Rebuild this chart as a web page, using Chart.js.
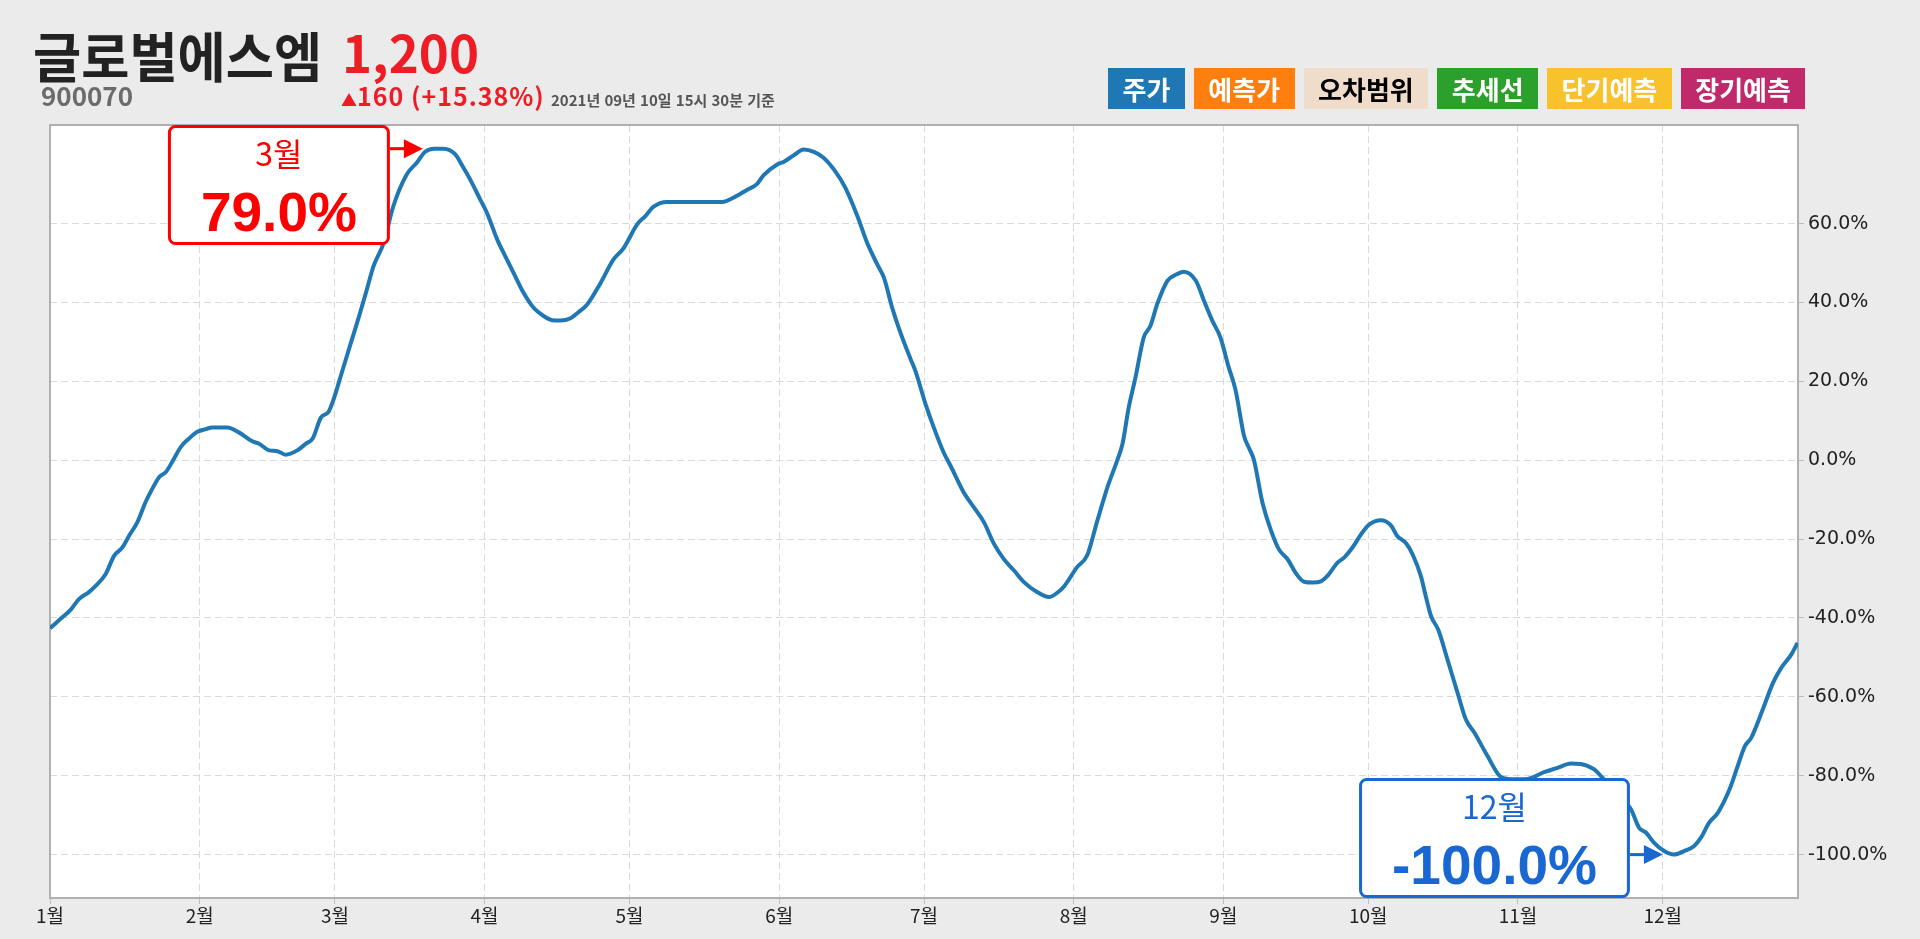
<!DOCTYPE html>
<html lang="ko">
<head>
<meta charset="utf-8">
<script src="https://cdn.jsdelivr.net/npm/chart.js@4.4.0/dist/chart.umd.min.js"></script>
<style>
  html, body { margin: 0; padding: 0; background: #ebebeb; width: 1920px; height: 939px; overflow: hidden; font-family: "Noto Sans CJK KR", sans-serif; }
  #wrap { position: relative; width: 1920px; height: 939px; }
  canvas { position: absolute; left: 0; top: 0; }
  .t { position: absolute; white-space: nowrap; line-height: 1; font-weight: 700; }
  #name { left: 33px; top: 28px; font-size: 54px; color: #222; transform: scaleX(0.97); transform-origin: left top; }
  #price { left: 342px; top: 26px; font-size: 51px; color: #ee1d25; }
  #code { left: 41px; top: 82px; font-size: 26px; color: #6b6b6b; }
  #change { left: 341px; top: 83px; font-size: 25px; color: #ee1d25; letter-spacing: 1px; }
  #change .up { font-size: 16px; letter-spacing: 0; }
  #stamp { left: 551px; top: 92px; font-size: 15px; color: #555; }
  #legend { position: absolute; left: 1108px; top: 68px; display: flex; gap: 9px; }
  #legend div { height: 41px; line-height: 41px; padding: 0 14.5px; font-size: 26px; font-weight: 700; }
</style>
</head>
<body>
<div id="wrap">
  <canvas id="chart" width="1920" height="939"></canvas>
  <div class="t" id="name"></div>
  <div class="t" id="price"></div>
  <div class="t" id="code"></div>
  <div class="t" id="change"></div>
  <div class="t" id="stamp"></div>
  <div id="legend"></div>
</div>
<script>
// header
const stockName = '글로벌에스엠';
const stockCode = '900070';
const lastPrice = 1200;
const priceChange = 160;
const changeRate = 15.38;
const asOf = '2021년 09년 10일 15시 30분 기준';

// legend
const legendLabels = ['주가', '예측가', '오차범위', '추세선', '단기예측', '장기예측'];
const legendColors = ['#1f77b4', '#ff7f0e', '#efdccb', '#2ca02c', '#f8c22c', '#c12a6a'];
const legendText = ['#fff', '#fff', '#000', '#fff', '#fff', '#fff'];

// axes
const monthLabels = ['1월', '2월', '3월', '4월', '5월', '6월', '7월', '8월', '9월', '10월', '11월', '12월'];
const monthStartDays = [0, 31, 59, 90, 120, 151, 181, 212, 243, 273, 304, 334];
const yTickValues = [-100, -80, -60, -40, -20, 0, 20, 40, 60];

// 주가 (return %), day of year
const dayOfYear = [
  0, 2.5, 4.3, 6, 8, 9.5, 11.5, 13.3, 15, 16.4,
  18.1, 19.8, 21.2, 22.6, 24, 25.5, 27.1, 28.8, 30.5, 32.3,
  33.6, 36.7, 39.2, 41.9, 43.3, 45.4, 47.1, 48.8, 51.2, 53,
  54.4, 56.1, 57.7, 58.8, 60.5, 62.5, 64.2, 65.6, 67, 69.1,
  71.1, 73.9, 76, 77.7, 79.5, 81.5, 83.9, 85.6, 87, 89.1,
  90.5, 92.6, 94.3, 96, 98.1, 100.2, 102.2, 104, 105.7, 107.8,
  109.5, 111.2, 114, 116.7, 118.8, 121.6, 123.3, 125, 127.8, 131,
  134, 137, 139.2, 141.6, 144.4, 146.4, 147.8, 150.6, 152, 154,
  156.1, 158.2, 160.2, 162.3, 164.7, 167.2, 169.2, 171.3, 172.7, 174.4,
  176.1, 178.2, 179.2, 181.3, 183, 185.1, 186.5, 189.2, 191.3, 193.4,
  195.5, 197.5, 199.6, 201.7, 204.4, 206.9, 208.6, 210, 212.7, 214.8,
  216.9, 219, 221, 222.1, 223.4, 224.8, 226.5, 227.9, 229.3, 231.4,
  233.1, 234.8, 237.3, 239, 240.7, 242.4, 244, 245.5, 247.3, 248.3,
  249.3, 251.1, 252.8, 254.5, 256.3, 258, 259.7, 261.5, 263.2, 264.5,
  266.6, 268, 269.7, 271.5, 273.2, 275.6, 277.7, 279, 280.8, 282.2,
  283.9, 284.9, 286, 287.5, 289.4, 291.5, 293.2, 295, 297.7, 300.5,
  303.2, 306, 309.4, 312.2, 315, 317, 319.8, 321.2, 324, 327.4,
  329.1, 330.5, 332.2, 334.3, 336.3, 338.4, 340.5, 341.9, 343.6, 345.4,
  347.8, 349.5, 351, 352.3, 354.7, 356.8, 358.5, 360.6, 361.9
];
const returns = [
  -42.6, -39.9, -37.9, -35.2, -33.5, -31.8, -28.9, -24.2, -22.1, -19.1,
  -15.7, -10.6, -7.2, -4.3, -3.0, 0.0, 3.4, 5.5, 7.2, 7.9,
  8.3, 8.3, 7.0, 4.8, 4.2, 2.5, 2.3, 1.4, 2.5, 4.2,
  5.5, 10.8, 12.3, 15.7, 22.5, 30.5, 37.3, 43.2, 49.2, 55.1,
  64.4, 72.5, 75.5, 78.2, 79.0, 79.0, 77.6, 74.2, 71.2, 66.1,
  62.7, 56.0, 51.7, 47.5, 42.4, 38.6, 36.6, 35.5, 35.4, 36.0,
  37.6, 39.4, 44.9, 50.9, 53.8, 59.8, 61.9, 64.3, 65.5, 65.5,
  65.5, 65.5, 65.5, 66.6, 68.6, 70.0, 72.3, 75.0, 75.7, 77.3,
  78.8, 78.2, 76.7, 73.8, 69.1, 61.9, 55.2, 49.7, 46.3, 38.7,
  32.4, 25.7, 22.7, 14.3, 8.4, 1.9, -1.4, -8.1, -11.9, -15.7,
  -21.2, -25.0, -27.9, -30.9, -33.4, -34.7, -33.6, -32.0, -27.1, -24.1,
  -15.3, -6.8, -0.1, 4.1, 13.4, 21.0, 31.1, 34.1, 39.6, 45.5,
  47.0, 47.8, 45.5, 40.4, 35.4, 31.1, 24.0, 17.9, 6.1, 3.1,
  0.2, -10.8, -17.6, -22.6, -25.1, -28.6, -30.8, -31.0, -30.7, -29.4,
  -26.0, -24.7, -22.2, -18.8, -16.3, -15.2, -16.5, -19.2, -21.0, -23.9,
  -29.4, -34.4, -39.5, -43.0, -50.5, -59.0, -65.7, -69.1, -75.0, -80.3,
  -80.9, -80.8, -79.1, -78.0, -76.9, -77.0, -78.4, -80.1, -84.0, -88.5,
  -93.2, -94.4, -97.0, -99.1, -100.0, -99.1, -97.8, -95.7, -91.9, -89.4,
  -83.5, -77.6, -72.5, -70.4, -63.2, -56.5, -52.7, -49.3, -46.3
];

document.getElementById('name').textContent = stockName;
document.getElementById('price').textContent = lastPrice.toLocaleString('en-US');
document.getElementById('code').textContent = stockCode;
document.getElementById('change').innerHTML =
  `<span class="up">▲</span>${priceChange} (+${changeRate.toFixed(2)}%)`;
document.getElementById('stamp').textContent = asOf;
const legendBox = document.getElementById('legend');
legendLabels.forEach((label, i) => {
  const d = document.createElement('div');
  d.textContent = label;
  d.style.background = legendColors[i];
  d.style.color = legendText[i];
  legendBox.appendChild(d);
});

function monthOf(day) {
  let m = 0;
  monthStartDays.forEach((start, i) => { if (day >= start) m = i; });
  return m;
}

// white plot area + frame
const plotFrame = {
  id: 'plotFrame',
  beforeDraw(chart) {
    const { ctx, chartArea: a } = chart;
    ctx.save();
    ctx.fillStyle = '#fff';
    ctx.fillRect(a.left, a.top, a.right - a.left, a.bottom - a.top);
    ctx.restore();
  },
  beforeDatasetsDraw(chart) {
    const { ctx, chartArea: a } = chart;
    ctx.save();
    ctx.strokeStyle = '#b0b0b0';
    ctx.lineWidth = 2;
    ctx.strokeRect(a.left, a.top, a.right - a.left, a.bottom - a.top);
    ctx.restore();
  }
};

// max / min callouts
const callouts = {
  id: 'callouts',
  afterDatasetsDraw(chart) {
    const { ctx, chartArea: area, scales: { x, y } } = chart;
    const hi = returns.indexOf(Math.max(...returns));
    const lo = returns.indexOf(Math.min(...returns));
    const bigFont = 'bold 55px "Liberation Sans", "Noto Sans CJK KR", sans-serif';
    const smallFont = '32px "Noto Sans CJK KR", sans-serif';

    function draw(i, color) {
      const px = x.getPixelForValue(dayOfYear[i]);
      const py = y.getPixelForValue(returns[i]);
      const big = returns[i].toFixed(1) + '%';
      const small = monthLabels[monthOf(dayOfYear[i])];
      ctx.save();
      ctx.font = bigFont;
      const w = ctx.measureText(big).width + 66;
      const h = 120;
      const tipX = px - 11;
      const right = tipX - 33;
      const left = right - w;
      const top = Math.min(Math.max(py - h / 2, area.top), area.bottom - h);

      ctx.beginPath();
      ctx.roundRect(left + 1.5, top + 1.5, w - 3, h - 3, 6);
      ctx.fillStyle = '#fff';
      ctx.fill();
      ctx.lineWidth = 3;
      ctx.strokeStyle = color;
      ctx.stroke();

      ctx.beginPath();
      ctx.moveTo(right, py);
      ctx.lineTo(tipX - 16, py);
      ctx.stroke();
      ctx.beginPath();
      ctx.moveTo(tipX, py);
      ctx.lineTo(tipX - 19, py - 9.5);
      ctx.lineTo(tipX - 19, py + 9.5);
      ctx.closePath();
      ctx.fillStyle = color;
      ctx.fill();

      ctx.textAlign = 'center';
      ctx.textBaseline = 'alphabetic';
      ctx.font = smallFont;
      ctx.fillText(small, left + w / 2, top + 41);
      ctx.font = bigFont;
      ctx.fillText(big, left + w / 2, top + 106);
      ctx.restore();
    }
    draw(hi, '#ff0000');
    draw(lo, '#1967d2');
  }
};

const ctx = document.getElementById('chart').getContext('2d');
const chart = new Chart(ctx, {
  type: 'line',
  data: {
    datasets: [{
      label: '주가',
      data: dayOfYear.map((d, i) => ({ x: d, y: returns[i] })),
      borderColor: '#1f77b4',
      borderWidth: 4,
      pointRadius: 0,
      fill: false,
      cubicInterpolationMode: 'monotone'
    }]
  },
  options: {
    responsive: false,
    animation: false,
    layout: { padding: { left: 50, top: 125, right: 0, bottom: 0 } },
    plugins: { legend: { display: false }, tooltip: { enabled: false } },
    scales: {
      x: {
        type: 'linear',
        min: 0,
        max: 362,
        afterBuildTicks: (s) => { s.ticks = monthStartDays.map(v => ({ value: v })); },
        afterFit: (s) => { s.height = 41; },
        ticks: {
          autoSkip: false,
          maxRotation: 0,
          padding: 0,
          color: '#222',
          font: { family: '"Noto Sans CJK KR"', size: 19 },
          callback: (v, i) => monthLabels[i]
        },
        grid: { color: '#dadada', tickLength: 6, tickColor: '#bdbdbd' },
        border: { display: false, dash: [7, 4] }
      },
      y: {
        position: 'right',
        min: -111,
        max: 85,
        afterBuildTicks: (s) => { s.ticks = yTickValues.map(v => ({ value: v })); },
        afterFit: (s) => { s.width = 122; },
        ticks: {
          padding: 4,
          color: '#222',
          font: { family: '"DejaVu Sans"', size: 19 },
          callback: (v) => v.toFixed(1) + '%'
        },
        grid: { color: '#dadada', tickLength: 6, tickColor: '#bdbdbd' },
        border: { display: false, dash: [7, 4] }
      }
    }
  },
  plugins: [plotFrame, callouts]
});
</script>
</body>
</html>
